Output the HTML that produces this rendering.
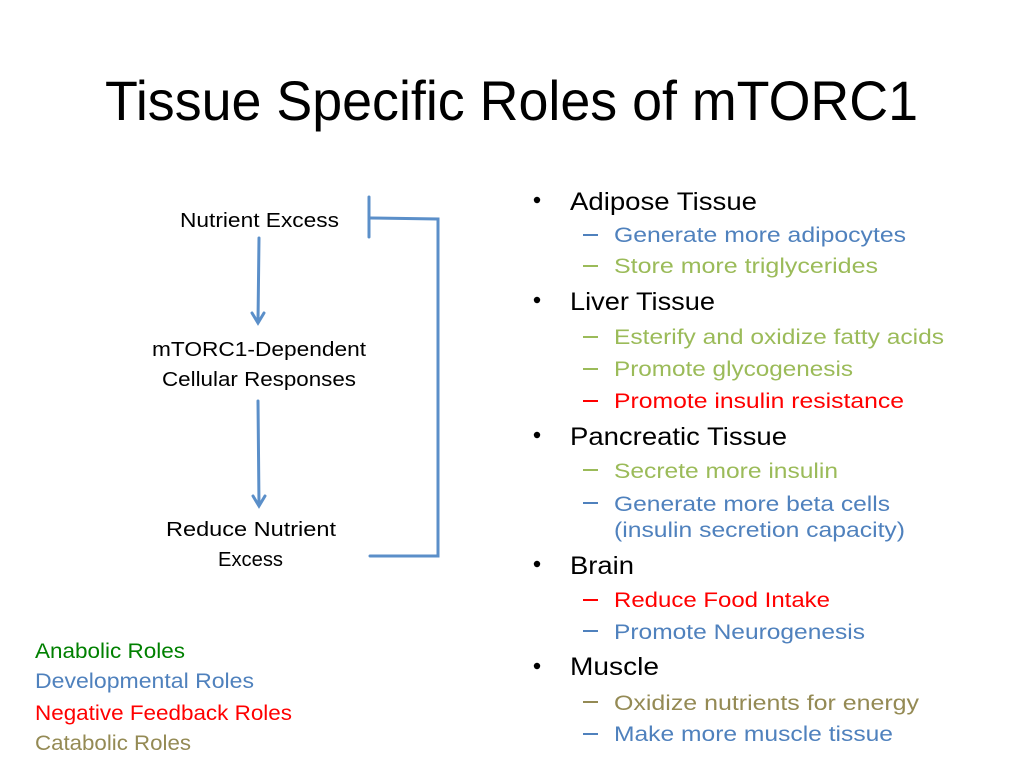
<!DOCTYPE html>
<html><head><meta charset="utf-8"><style>html,body{margin:0;padding:0;background:#fff}svg{display:block}</style></head>
<body>
<svg width="1024" height="768" viewBox="0 0 1024 768" xmlns="http://www.w3.org/2000/svg" font-family="Liberation Sans, Arial, sans-serif">
<rect width="1024" height="768" fill="#fff"/>
<g font-size="56" fill="#000"><text x="105" y="120" textLength="813" lengthAdjust="spacingAndGlyphs">Tissue Specific Roles of mTORC1</text></g>

<!-- left flow -->
<g font-size="20" fill="#000">
<text x="180" y="227" textLength="159" lengthAdjust="spacingAndGlyphs">Nutrient Excess</text>
<text x="152" y="356" textLength="214" lengthAdjust="spacingAndGlyphs">mTORC1-Dependent</text>
<text x="162" y="386" textLength="194" lengthAdjust="spacingAndGlyphs">Cellular Responses</text>
<text x="166" y="536" textLength="170" lengthAdjust="spacingAndGlyphs">Reduce Nutrient</text>
<text x="218" y="566" textLength="65" lengthAdjust="spacingAndGlyphs">Excess</text>
</g>
<g stroke="#5b8fc9" stroke-width="3" fill="none" stroke-linecap="round">
<line x1="259" y1="238" x2="258" y2="322"/>
<polyline points="252,313 258,323 264,313"/>
<line x1="258" y1="401" x2="259" y2="505"/>
<polyline points="253,496 259,506 265,496"/>
<line x1="369" y1="197" x2="369" y2="237"/>
<polyline points="370,218 438,219 438,556 370,556"/>
</g>

<!-- legend -->
<g font-size="21">
<text x="35" y="658" fill="#008000" textLength="150" lengthAdjust="spacingAndGlyphs">Anabolic Roles</text>
<text x="35" y="688" fill="#4f81bd" textLength="219" lengthAdjust="spacingAndGlyphs">Developmental Roles</text>
<text x="35" y="720" fill="#ff0000" textLength="257" lengthAdjust="spacingAndGlyphs">Negative Feedback Roles</text>
<text x="35" y="750" fill="#948a54" textLength="156" lengthAdjust="spacingAndGlyphs">Catabolic Roles</text>
</g>

<!-- right list -->
<g fill="#000">
<circle cx="537" cy="200" r="3.2"/><circle cx="537" cy="300" r="3.2"/><circle cx="537" cy="435" r="3.2"/><circle cx="537" cy="564" r="3.2"/><circle cx="537" cy="666" r="3.2"/>
</g>
<g font-size="25" fill="#000">
<text x="570" y="210" textLength="187" lengthAdjust="spacingAndGlyphs">Adipose Tissue</text>
<text x="570" y="310" textLength="145" lengthAdjust="spacingAndGlyphs">Liver Tissue</text>
<text x="570" y="445" textLength="217" lengthAdjust="spacingAndGlyphs">Pancreatic Tissue</text>
<text x="570" y="574" textLength="64" lengthAdjust="spacingAndGlyphs">Brain</text>
<text x="570" y="675" textLength="89" lengthAdjust="spacingAndGlyphs">Muscle</text>
</g>
<g stroke-width="2">
<line x1="583" x2="598" y1="235" y2="235" stroke="#4f81bd"/>
<line x1="583" x2="598" y1="266" y2="266" stroke="#9bbb59"/>
<line x1="583" x2="598" y1="337" y2="337" stroke="#9bbb59"/>
<line x1="583" x2="598" y1="369" y2="369" stroke="#9bbb59"/>
<line x1="583" x2="598" y1="401" y2="401" stroke="#ff0000"/>
<line x1="583" x2="598" y1="470" y2="470" stroke="#9bbb59"/>
<line x1="583" x2="598" y1="503" y2="503" stroke="#4f81bd"/>
<line x1="583" x2="598" y1="600" y2="600" stroke="#ff0000"/>
<line x1="583" x2="598" y1="631" y2="631" stroke="#4f81bd"/>
<line x1="583" x2="598" y1="702" y2="702" stroke="#948a54"/>
<line x1="583" x2="598" y1="734" y2="734" stroke="#4f81bd"/>
</g>
<g font-size="21">
<text x="614" y="242" fill="#4f81bd" textLength="292" lengthAdjust="spacingAndGlyphs">Generate more adipocytes</text>
<text x="614" y="273" fill="#9bbb59" textLength="264" lengthAdjust="spacingAndGlyphs">Store more triglycerides</text>
<text x="614" y="344" fill="#9bbb59" textLength="330" lengthAdjust="spacingAndGlyphs">Esterify and oxidize fatty acids</text>
<text x="614" y="376" fill="#9bbb59" textLength="239" lengthAdjust="spacingAndGlyphs">Promote glycogenesis</text>
<text x="614" y="408" fill="#ff0000" textLength="290" lengthAdjust="spacingAndGlyphs">Promote insulin resistance</text>
<text x="614" y="478" fill="#9bbb59" textLength="224" lengthAdjust="spacingAndGlyphs">Secrete more insulin</text>
<text x="614" y="511" fill="#4f81bd" textLength="276" lengthAdjust="spacingAndGlyphs">Generate more beta cells</text>
<text x="614" y="537" fill="#4f81bd" textLength="291" lengthAdjust="spacingAndGlyphs">(insulin secretion capacity)</text>
<text x="614" y="607" fill="#ff0000" textLength="216" lengthAdjust="spacingAndGlyphs">Reduce Food Intake</text>
<text x="614" y="639" fill="#4f81bd" textLength="251" lengthAdjust="spacingAndGlyphs">Promote Neurogenesis</text>
<text x="614" y="710" fill="#948a54" textLength="305" lengthAdjust="spacingAndGlyphs">Oxidize nutrients for energy</text>
<text x="614" y="741" fill="#4f81bd" textLength="279" lengthAdjust="spacingAndGlyphs">Make more muscle tissue</text>
</g>
</svg>
</body></html>
